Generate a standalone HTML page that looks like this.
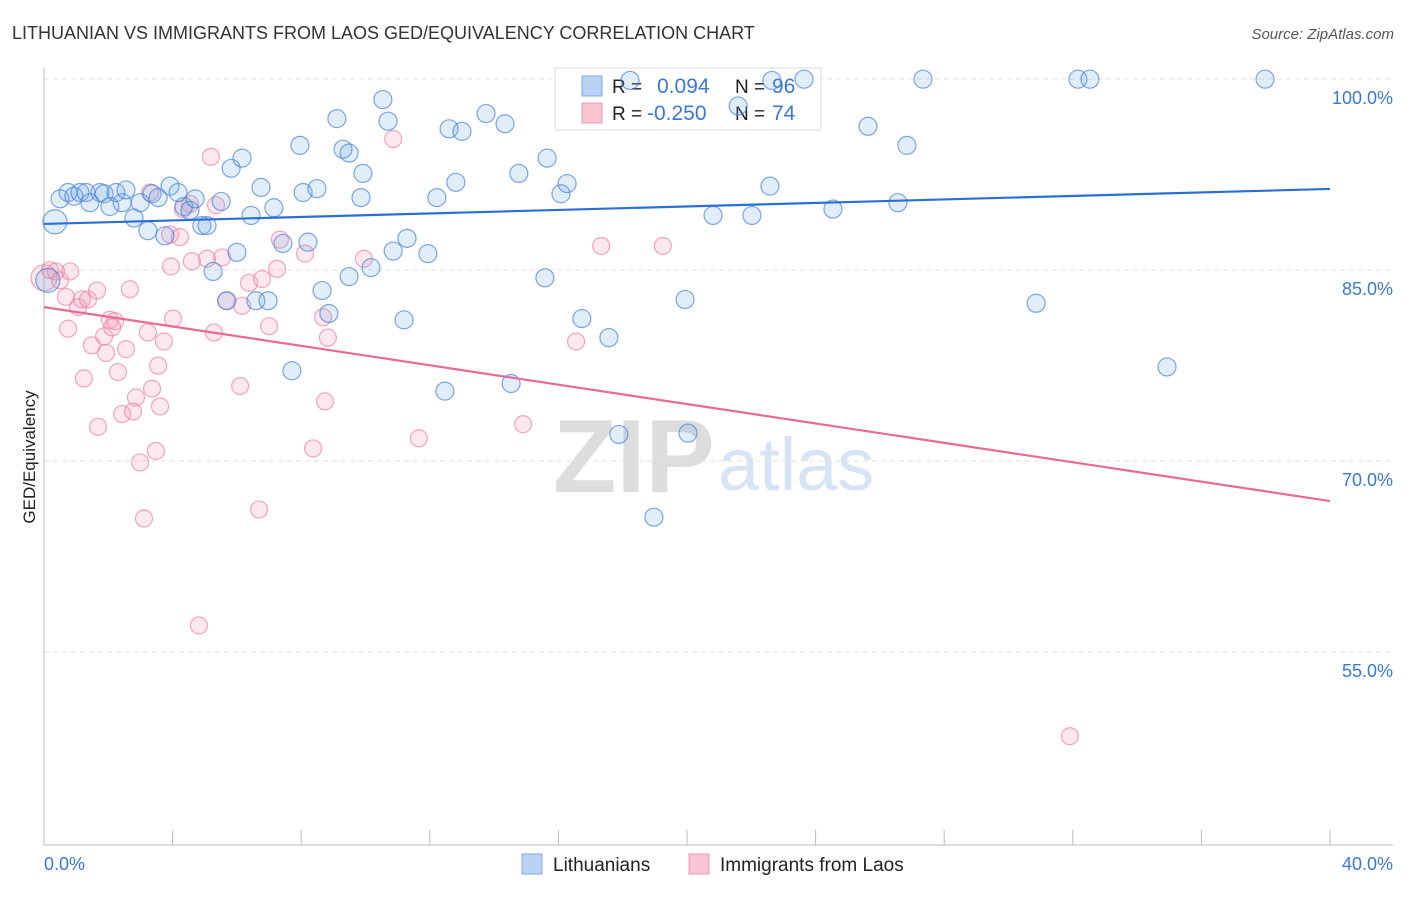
<!DOCTYPE html>
<html><head><meta charset="utf-8"><style>
body{margin:0;background:#fff;font-family:"Liberation Sans",sans-serif}
svg text{font-family:"Liberation Sans",sans-serif}
</style></head><body>
<svg id="chart" width="1406" height="892" xmlns="http://www.w3.org/2000/svg">
<text x="12" y="39" font-size="18" fill="#333">LITHUANIAN VS IMMIGRANTS FROM LAOS GED/EQUIVALENCY CORRELATION CHART</text>
<text x="1394" y="39" font-size="15" fill="#555" font-style="italic" text-anchor="end">Source: ZipAtlas.com</text>
<g>
<text x="553" y="492" font-size="104" font-family="Liberation Serif, serif" fill="#ddd" font-weight="bold">ZIP</text>
<text x="718" y="490" font-size="74" fill="#d6e4f5">atlas</text>
</g>
<g id="grid"></g>
<g id="axes"></g>
<g>
<rect x="555" y="68" width="266" height="62" fill="#fff" stroke="#ddd"/>
<rect x="582" y="76" width="20" height="20" fill="#b9d3f4" stroke="#7aa8e6"/>
<rect x="582" y="103" width="20" height="20" fill="#f9c5d5" stroke="#f097b4"/>
<text x="612" y="93" font-size="19" fill="#222">R = </text>
<text x="657" y="93" font-size="21" fill="#3a78d4">0.094</text>
<text x="735" y="93" font-size="19" fill="#222">N = </text>
<text x="772" y="93" font-size="21" fill="#3a78d4">96</text>
<text x="612" y="120" font-size="19" fill="#222">R = </text>
<text x="647" y="120" font-size="21" fill="#3a78d4">-0.250</text>
<text x="735" y="120" font-size="19" fill="#222">N = </text>
<text x="772" y="120" font-size="21" fill="#3a78d4">74</text>
</g>
<g id="points"></g>
<g id="trends"></g>
<text transform="translate(35,457) rotate(-90)" font-size="17" fill="#222" text-anchor="middle">GED/Equivalency</text>
<g>
<rect x="522" y="854" width="20" height="20" fill="#b9d3f4" stroke="#7aa8e6"/>
<text x="553" y="871" font-size="19" fill="#222">Lithuanians</text>
<rect x="689" y="854" width="20" height="20" fill="#f9c5d5" stroke="#f097b4"/>
<text x="720" y="871" font-size="19" fill="#222">Immigrants from Laos</text>
</g>
</svg>
<script>
const xTicksPct=[0,40];
const yTicks=[100,85,70,55];
const blueX=[0.34,0.50,0.75,0.93,1.12,1.31,1.43,1.74,1.87,2.05,2.24,2.43,2.55,2.80,2.99,3.23,3.36,3.55,3.76,3.92,4.17,4.35,4.54,4.70,4.91,5.07,5.26,5.51,5.69,5.82,6.00,6.16,6.44,6.59,6.75,6.97,7.15,7.43,7.71,7.96,8.06,8.21,8.49,8.65,8.86,9.11,9.30,9.49,9.49,9.86,9.92,10.17,10.54,10.70,10.86,11.20,11.29,11.94,12.22,12.47,12.60,12.81,13.00,13.75,14.34,14.53,14.77,15.58,15.65,16.08,16.27,16.73,17.57,17.88,18.23,18.97,19.94,20.03,20.81,21.59,22.02,22.58,22.64,23.64,24.54,25.63,26.56,26.84,27.34,30.86,32.16,32.53,34.93,37.98,0.12];
const blueY=[90.2,92.0,92.5,92.2,92.5,92.5,91.7,92.5,92.4,91.4,92.5,91.7,92.7,90.5,91.7,89.5,92.4,92.1,89.1,93.0,92.5,91.4,91.1,92.0,89.9,89.9,86.3,91.8,84.0,94.4,87.8,95.2,90.7,84.0,92.9,84.0,91.3,88.5,78.5,96.2,92.5,88.6,92.8,84.8,83.0,98.3,95.9,95.6,85.9,92.1,94.0,86.6,99.8,98.1,87.9,82.5,88.9,87.7,92.1,76.9,97.5,93.3,97.3,98.7,97.9,77.5,94.0,85.8,95.2,92.4,93.2,82.6,81.1,73.5,101.3,67.0,84.1,73.6,90.7,99.3,90.7,93.0,101.3,101.4,91.2,97.7,91.7,96.2,101.4,83.8,101.4,101.4,78.8,101.4,85.6];
const pinkX=[0.0,0.19,0.37,0.50,0.68,0.75,0.81,1.06,1.18,1.24,1.37,1.49,1.65,1.68,1.87,1.93,2.05,2.12,2.21,2.30,2.43,2.55,2.67,2.77,2.86,2.99,3.11,3.23,3.36,3.48,3.55,3.61,3.73,3.92,3.95,4.01,4.23,4.32,4.60,4.82,5.07,5.19,5.29,5.35,5.54,5.66,6.10,6.16,6.38,6.69,6.78,7.00,7.25,7.34,8.12,8.37,8.68,8.74,8.83,9.95,10.86,11.66,14.90,16.55,17.33,19.25,31.91,3.30,4.54];
const pinkY=[85.8,86.4,86.3,85.6,84.3,81.8,86.3,83.5,84.1,77.9,84.1,80.5,84.8,74.1,81.2,79.9,82.5,81.9,82.4,78.4,75.1,80.2,84.9,75.3,76.4,71.3,66.9,81.5,77.1,72.2,78.9,75.7,80.8,89.2,86.7,82.6,89.0,91.2,87.1,58.5,87.3,95.3,81.5,91.5,87.4,84.0,77.3,83.6,85.4,67.6,85.7,82.0,86.5,88.8,87.7,72.4,82.7,76.1,81.1,87.3,96.7,73.2,74.3,80.8,88.3,88.3,49.8,92.5,91.6];
const blueTrend=[90.03,92.78];
const pinkTrend=[83.5,68.27];
const NS='http://www.w3.org/2000/svg';
const X0=44,X1=1330;
function sx(v){return X0+(v/40)*(X1-X0);}
function sy(v){return 97+(100-v)*(191/15);}
function mk(t,a,p){const e=document.createElementNS(NS,t);for(const k in a)e.setAttribute(k,a[k]);p.appendChild(e);return e;}
const grid=document.getElementById('grid'),axes=document.getElementById('axes'),pts=document.getElementById('points'),tr=document.getElementById('trends');
yTicks.forEach(v=>{
  const l=mk('line',{x1:44,x2:1393,y1:sy(v)-18,y2:sy(v)-18,stroke:'#e2e2e2','stroke-dasharray':'5,4'},grid);
  
  
  const t=mk('text',{x:1393,y:sy(v)+7,'font-size':18,fill:'#3a78d4','text-anchor':'end'},axes);
  t.textContent=v.toFixed(1)+'%';
  
  
});
const ax=mk('line',{x1:44,x2:1393,y1:845,y2:845,stroke:'#bbb'},axes);


const ay=mk('line',{x1:44,x2:44,y1:68,y2:845,stroke:'#bbb'},axes);


for(let i=0;i<=10;i++){
  const tk=mk('line',{x1:sx(i*4),x2:sx(i*4),y1:830,y2:845,stroke:'#bbb'},axes);
  
  
}
xTicksPct.forEach((v,i)=>{
  const t=mk('text',{x:i?1393:44,y:870,'font-size':18,fill:'#3a78d4','text-anchor':i?'end':'start'},axes);
  t.textContent=v.toFixed(1)+'%';
  
  
});
pinkX.forEach((v,i)=>{
  const c=mk('circle',{cx:sx(v),cy:sy(pinkY[i]),r:i===0?13:8.5,fill:'rgba(244,150,180,0.22)',stroke:'rgba(235,130,165,0.7)','stroke-width':1.2},pts);
  
  
});
blueX.forEach((v,i)=>{
  const c=mk('circle',{cx:sx(v),cy:sy(blueY[i]),r:i===0||i===blueX.length-1?12:9,fill:'rgba(110,165,230,0.2)',stroke:'rgba(70,130,215,0.7)','stroke-width':1.2},pts);
  
  
});
const bl=mk('line',{x1:sx(0),x2:sx(40),y1:sy(blueTrend[0]),y2:sy(blueTrend[1]),stroke:'#2a6fd6','stroke-width':2.2},tr);


const pl=mk('line',{x1:sx(0),x2:sx(40),y1:sy(pinkTrend[0]),y2:sy(pinkTrend[1]),stroke:'#e8699a','stroke-width':2.2},tr);


</script>
</body></html>
